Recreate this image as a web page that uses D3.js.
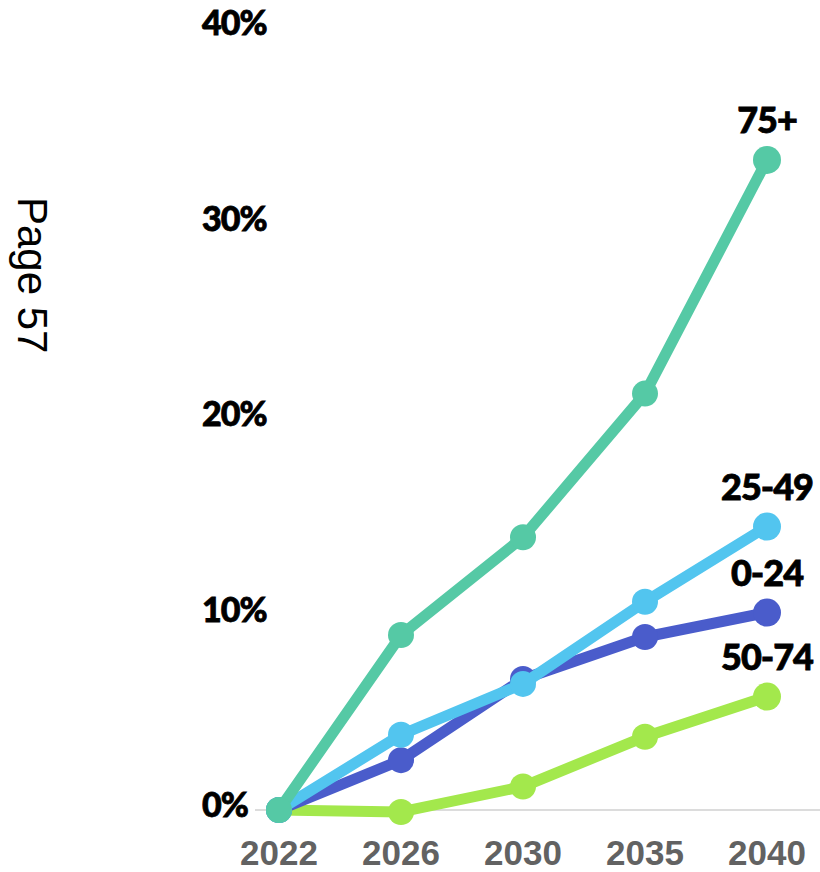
<!DOCTYPE html>
<html>
<head>
<meta charset="utf-8">
<script src="https://cdn.jsdelivr.net/npm/d3@7"></script>
<style>
  body { margin: 0; background: #fff; }
</style>
</head>
<body>
<svg id="chart" width="820" height="872"></svg>
<script>
// Years along the bottom and % change for each age group
let years = ["2022", "2026", "2030", "2035", "2040"];
let yTicks = [0, 10, 20, 30, 40];

let age75 = [0, 8.95, 13.95, 21.3, 33.25];
let age25_49 = [0, 3.85, 6.45, 10.65, 14.5];
let age0_24 = [0, 2.55, 6.7, 8.85, 10.1];
let age50_74 = [0, -0.1, 1.2, 3.75, 5.8];

// drawn bottom to top
let series = [
    {name: "50-74", values: age50_74, color: "#a3e84c"},
    {name: "0-24", values: age0_24, color: "#4a5ccb"},
    {name: "25-49", values: age25_49, color: "#52c5ef"},
    {name: "75+", values: age75, color: "#55c9a5"}
];

let svg = d3.select("#chart");

let x = d3.scalePoint().domain(years).range([279, 767]);
let y = d3.scaleLinear().domain([0, 40]).range([810, 28]);

// side note
svg.append("text")
    .attr("transform", "translate(18,197) rotate(90)")
    .attr("font-family", "Liberation Sans, Arial, sans-serif")
    .attr("font-size", 42)
    .attr("fill", "#000")
    .text("Page 57");

// zero line
svg.append("line")
    .attr("x1", 255).attr("x2", 820)
    .attr("y1", y(0)).attr("y2", y(0))
    .attr("stroke", "#d0d0d0")
    .attr("stroke-width", 1.5);

// y tick labels
svg.append("g").selectAll("text").data(yTicks).enter().append("text")
    .attr("x", 202)
    .attr("y", d => y(d) + 7)
    .attr("font-family", "Lato, sans-serif")
    .attr("font-weight", 900)
    .attr("font-size", 34)
    .attr("letter-spacing", -1)
    .attr("fill", "#000")
    .attr("stroke", "#000")
    .attr("stroke-width", 0.8)
    .text(d => d + "%");

// x labels
svg.append("g").selectAll("text").data(years).enter().append("text")
    .attr("x", d => x(d))
    .attr("y", 865)
    .attr("text-anchor", "middle")
    .attr("font-family", "Liberation Sans, Arial, sans-serif")
    .attr("font-weight", "bold")
    .attr("font-size", 35)
    .attr("fill", "#626262")
    .text(d => d);

let line = d3.line()
    .x((d, i) => x(years[i]))
    .y(d => y(d));

let groups = svg.selectAll(".series").data(series).enter().append("g")
    .attr("class", "series");

groups.append("path")
    .attr("d", d => line(d.values))
    .attr("fill", "none")
    .attr("stroke", d => d.color)
    .attr("stroke-width", 11)
    .attr("stroke-linejoin", "round");

groups.selectAll("circle").data(d => d.values.map((v, i) => ({v: v, i: i, color: d.color}))).enter().append("circle")
    .attr("cx", d => x(years[d.i]))
    .attr("cy", d => y(d.v))
    .attr("r", d => d.i === years.length - 1 ? 14 : 13)
    .attr("fill", d => d.color);

// series labels above the last point
groups.append("text")
    .attr("x", x(years[years.length - 1]))
    .attr("y", d => y(d.values[d.values.length - 1]) - 27)
    .attr("text-anchor", "middle")
    .attr("font-family", "Lato, sans-serif")
    .attr("font-weight", 900)
    .attr("font-size", 36)
    .attr("letter-spacing", -1)
    .attr("fill", "#000")
    .attr("stroke", "#000")
    .attr("stroke-width", 0.8)
    .text(d => d.name);
</script>
</body>
</html>
